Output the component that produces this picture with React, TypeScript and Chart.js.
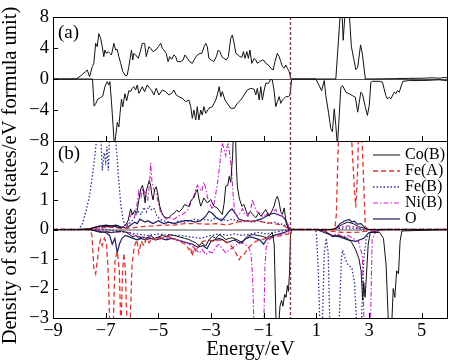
import { useEffect, useRef } from "react";
import { Chart, registerables } from "chart.js";
Chart.register(...registerables);

// ---- axes / labels ----
const X_TICKS = [-9, -7, -5, -3, -1, 1, 3, 5];
const YA_TICKS = [-8, -4, 0, 4, 8];
const YB_TICKS = [-3, -2, -1, 0, 1, 2];
const X_TITLE = "Energy/eV";
const Y_TITLE = "Density of states (states/eV formula unit)";
const PANEL_LABELS = ["(a)", "(b)"];
const SPECIES = ["Co(B)", "Fe(A)", "Fe(B)", "Ni(B)", "O"];

// ---- panel (a): total DOS [energy, states] ----
const TOTAL_UP: number[][] = [[-9,0],[-8.12,0],[-7.95,0.4],[-7.78,0.9],[-7.7,1.16],[-7.61,0.3],[-7.51,1.59],[-7.45,2.02],[-7.38,4.6],[-7.32,4.17],[-7.26,5.85],[-7.19,5.25],[-7.13,4.17],[-7.07,2.88],[-7.03,3.74],[-6.98,3.31],[-6.9,3.53],[-6.84,3.31],[-6.78,3.1],[-6.69,4.6],[-6.62,3.74],[-6.56,3.83],[-6.5,2.88],[-6.43,2.02],[-6.35,0.95],[-6.24,0.39],[-6.18,0.52],[-6.12,1.59],[-6.02,3.74],[-5.97,2.45],[-5.93,3.31],[-5.86,3.1],[-5.76,2.67],[-5.67,3.74],[-5.61,4.6],[-5.52,4.6],[-5.46,2.88],[-5.36,4.17],[-5.29,3.96],[-5.2,3.53],[-5.1,3.74],[-5.0,4.17],[-4.91,4.6],[-4.85,3.96],[-4.79,3.74],[-4.7,3.31],[-4.63,2.24],[-4.57,2.88],[-4.49,2.54],[-4.41,3.1],[-4.34,2.88],[-4.28,2.24],[-4.15,2.24],[-4.06,2.45],[-3.99,3.1],[-3.9,2.67],[-3.81,2.24],[-3.71,2.02],[-3.61,2.67],[-3.52,3.1],[-3.42,3.31],[-3.35,3.31],[-3.26,4.17],[-3.2,4.6],[-3.14,4.17],[-3.08,2.67],[-2.99,2.45],[-2.89,2.24],[-2.8,2.88],[-2.72,3.74],[-2.66,3.53],[-2.59,2.88],[-2.51,2.67],[-2.42,2.45],[-2.34,2.88],[-2.25,5.25],[-2.19,5.68],[-2.12,4.6],[-2.06,3.31],[-1.97,3.1],[-1.9,2.88],[-1.83,2.8],[-1.77,3.53],[-1.71,2.67],[-1.64,3.53],[-1.58,2.67],[-1.52,3.74],[-1.45,2.02],[-1.36,2.67],[-1.3,2.45],[-1.24,2.02],[-1.15,2.24],[-1.05,2.45],[-0.98,2.37],[-0.92,2.02],[-0.82,1.81],[-0.73,1.38],[-0.64,1.16],[-0.57,2.24],[-0.48,3.31],[-0.41,2.88],[-0.35,2.24],[-0.29,1.59],[-0.22,1.38],[-0.16,1.81],[-0.1,1.38],[-0.03,0.95],[0.03,0],[1.74,0],[1.88,7],[1.95,10.5],[2.02,5.0],[2.1,9],[2.18,10.5],[2.26,8],[2.33,4.2],[2.42,2.6],[2.5,1.2],[2.57,1.5],[2.68,4.4],[2.75,3.2],[2.86,0],[3.5,0.02],[4.0,0.05],[4.5,0.08],[5.0,0.1],[5.4,0.15],[5.7,0.1],[5.85,0.2],[6,0.15]];
const TOTAL_DOWN: number[][] = [[-9,0],[-7.5,0],[-7.44,-3.5],[-7.38,-3.2],[-7.3,-2.6],[-7.2,-2.4],[-7.11,-2.2],[-7.03,-1.0],[-6.94,-0.34],[-6.88,-0.77],[-6.84,-0.34],[-6.78,-2.9],[-6.72,-6.0],[-6.67,-8.6],[-6.62,-7.4],[-6.56,-5.6],[-6.5,-6.2],[-6.45,-4.3],[-6.4,-2.6],[-6.35,-3.6],[-6.27,-1.9],[-6.2,-2.8],[-6.12,-1.5],[-6.05,-1.63],[-5.99,-1.2],[-5.93,-0.99],[-5.86,-1.42],[-5.8,-0.77],[-5.74,-1.85],[-5.67,-1.42],[-5.61,-0.99],[-5.52,-1.63],[-5.42,-0.77],[-5.33,-1.2],[-5.26,-1.42],[-5.17,-2.06],[-5.08,-1.2],[-4.98,-2.06],[-4.85,-1.42],[-4.72,-1.63],[-4.6,-2.06],[-4.49,-1.85],[-4.41,-1.42],[-4.32,-2.06],[-4.22,-2.28],[-4.09,-2.49],[-3.96,-2.92],[-3.84,-2.71],[-3.77,-3.57],[-3.71,-5.08],[-3.65,-4.0],[-3.58,-5.29],[-3.52,-3.57],[-3.46,-5.29],[-3.39,-4.0],[-3.33,-4.65],[-3.27,-3.57],[-3.2,-4.43],[-3.08,-3.78],[-2.95,-3.57],[-2.82,-2.71],[-2.76,-2.06],[-2.69,-0.99],[-2.63,-2.28],[-2.57,-1.63],[-2.47,-2.71],[-2.34,-3.35],[-2.25,-3.78],[-2.12,-3.78],[-2.0,-3.14],[-1.87,-2.71],[-1.74,-2.06],[-1.62,-1.42],[-1.49,-1.2],[-1.36,-1.33],[-1.3,-2.06],[-1.24,-1.2],[-1.17,-2.71],[-1.11,-0.99],[-1.05,-2.71],[-0.98,-1.42],[-0.92,-0.56],[-0.82,-0.56],[-0.73,-0.04],[-0.67,-0.13],[-0.6,-1.63],[-0.54,-3.57],[-0.48,-2.92],[-0.41,-2.28],[-0.35,-3.14],[-0.29,-2.71],[-0.22,-2.49],[-0.16,-2.28],[-0.06,-2.28],[0.0,-2.06],[0.06,-0.13],[0.1,0],[0.98,0],[1.11,-0.86],[1.2,-1.5],[1.3,-0.2],[1.36,-2.14],[1.46,-4.28],[1.55,-6.4],[1.61,-6.8],[1.68,-3.85],[1.74,-6.0],[1.8,-8.6],[1.87,-4.7],[1.93,-1.07],[2.0,-0.86],[2.12,-1.7],[2.25,-1.9],[2.37,-2.14],[2.48,-2.35],[2.57,-4.28],[2.63,-3.0],[2.69,-1.7],[2.75,-1.9],[2.86,-3.64],[2.94,-4.7],[3.01,-3.4],[3.07,-0.43],[3.13,-0.3],[3.39,-0.3],[3.51,-0.4],[3.64,-2.14],[3.7,-2.56],[3.77,-2.35],[3.83,-2.56],[3.96,-1.7],[4.02,-1.9],[4.08,-1.5],[4.15,-1.7],[4.28,-0.3],[4.53,-0.2],[5.04,-0.2],[5.67,-0.1],[5.92,-0.2],[6,-0.15]];

// ---- panel (b): partial DOS [energy, states] ----
const CO_UP: number[][] = [[-9,0],[-8,0],[-7.6,0.02],[-7.4,0.08],[-7.2,0.12],[-7.0,0.1],[-6.8,0.12],[-6.6,0.1],[-6.4,0.05],[-6.25,0.15],[-6.15,0.3],[-6.05,0.7],[-5.98,0.5],[-5.9,0.65],[-5.82,0.55],[-5.74,1.0],[-5.66,1.4],[-5.6,1.5],[-5.55,1.2],[-5.5,0.9],[-5.46,1.3],[-5.4,1.5],[-5.35,1.65],[-5.3,1.55],[-5.25,1.2],[-5.2,1.0],[-5.14,1.35],[-5.08,1.45],[-5.02,1.2],[-4.95,0.8],[-4.88,0.6],[-4.8,0.45],[-4.7,0.4],[-4.6,0.4],[-4.5,0.5],[-4.4,0.55],[-4.3,0.65],[-4.2,0.6],[-4.1,0.7],[-4.0,0.85],[-3.9,0.8],[-3.84,0.79],[-3.75,1.0],[-3.65,1.07],[-3.58,1.25],[-3.52,1.36],[-3.45,1.0],[-3.39,0.79],[-3.27,1.07],[-3.14,0.9],[-3.01,1.02],[-2.89,0.79],[-2.76,0.73],[-2.65,0.6],[-2.57,0.51],[-2.5,0.9],[-2.44,1.47],[-2.36,1.5],[-2.31,1.8],[-2.25,1.6],[-2.18,2.5],[-2.14,3.5],[-2.08,3.5],[-2.03,2.0],[-2.0,1.47],[-1.93,1.07],[-1.83,0.79],[-1.75,0.85],[-1.62,0.51],[-1.5,0.6],[-1.3,0.4],[-1.2,0.55],[-1.1,0.45],[-0.92,0.68],[-0.8,0.45],[-0.7,0.6],[-0.6,0.8],[-0.54,1.02],[-0.48,1.13],[-0.42,0.95],[-0.35,0.6],[-0.29,0.51],[-0.22,0.73],[-0.14,0.2],[-0.05,0],[1.6,0],[1.75,0.05],[2.0,0.18],[2.2,0.25],[2.4,0.2],[2.6,0.1],[2.8,0.05],[3.0,0],[6,0]];
const CO_DOWN: number[][] = [[-9,0],[-7.6,0],[-7.4,-0.05],[-7.2,-0.1],[-7.0,-0.08],[-6.8,-0.1],[-6.6,-0.08],[-6.4,-0.05],[-6.2,-0.1],[-6.05,-0.2],[-5.95,-0.25],[-5.85,-0.2],[-5.75,-0.3],[-5.6,-0.25],[-5.45,-0.3],[-5.3,-0.2],[-5.15,-0.3],[-5.0,-0.25],[-4.85,-0.2],[-4.7,-0.25],[-4.6,-0.17],[-4.4,-0.2],[-4.2,-0.25],[-4.0,-0.3],[-3.84,-0.34],[-3.7,-0.4],[-3.58,-0.45],[-3.45,-0.55],[-3.35,-0.45],[-3.2,-0.56],[-3.08,-0.35],[-2.95,-0.23],[-2.82,-0.3],[-2.69,-0.17],[-2.55,-0.25],[-2.44,-0.34],[-2.3,-0.3],[-2.19,-0.28],[-2.0,-0.35],[-1.81,-0.45],[-1.7,-0.3],[-1.62,-0.23],[-1.43,-0.17],[-1.25,-0.2],[-1.05,-0.23],[-0.9,-0.28],[-0.78,-0.2],[-0.67,-0.11],[-0.6,-0.5],[-0.56,-2.0],[-0.52,-3.5],[-0.45,-3.5],[-0.38,-2.6],[-0.32,-2.4],[-0.27,-2.6],[-0.2,-2.2],[-0.15,-2.3],[-0.1,-1.9],[-0.06,-2.1],[-0.02,-1.5],[0.02,-0.2],[0.06,0],[1.0,0],[1.3,-0.05],[1.5,-0.15],[1.6,-0.25],[1.8,-0.2],[2.0,-0.25],[2.2,-0.3],[2.35,-0.45],[2.5,-0.7],[2.62,-1.0],[2.7,-1.4],[2.76,-2.4],[2.8,-1.8],[2.85,-2.3],[2.9,-1.6],[2.97,-0.5],[3.05,-0.1],[3.4,-0.1],[3.55,-0.3],[3.65,-1.2],[3.75,-3.5],[3.85,-3.5],[3.92,-2.0],[3.98,-2.3],[4.05,-1.4],[4.12,-1.5],[4.18,-0.4],[4.25,-0.05],[6,0]];
const FEA_UP: number[][] = [[-9,0],[-7.5,0],[-7.2,0.05],[-6.8,0.08],[-6.4,0.05],[-6.0,0.05],[-5.6,0.1],[-5.2,0.12],[-4.8,0.15],[-4.4,0.15],[-4.0,0.2],[-3.6,0.2],[-3.2,0.18],[-2.8,0.2],[-2.4,0.15],[-2.0,0.25],[-1.7,0.3],[-1.5,0.25],[-1.3,0.3],[-1.0,0.25],[-0.6,0.2],[-0.3,0.15],[0,0],[1.7,0],[1.76,0.5],[1.82,2.5],[1.87,3.6],[1.95,4],[2.1,4],[2.3,3.8],[2.38,2.4],[2.45,1.3],[2.5,0.75],[2.56,1.8],[2.62,3.6],[2.7,3.8],[2.78,2.0],[2.86,0.1],[2.95,0],[6,0]];
const FEA_DOWN: number[][] = [[-9,0],[-7.6,0],[-7.52,-0.2],[-7.45,-1.3],[-7.38,-1.5],[-7.32,-1.1],[-7.26,-0.6],[-7.2,-0.35],[-7.13,-0.55],[-7.05,-0.3],[-6.97,-0.45],[-6.9,-1.5],[-6.84,-3.5],[-6.72,-3.5],[-6.64,-1.0],[-6.56,-0.75],[-6.48,-1.4],[-6.42,-3.5],[-6.36,-1.5],[-6.31,-0.8],[-6.25,-1.4],[-6.18,-3.5],[-6.08,-3.5],[-6.0,-1.2],[-5.92,-0.6],[-5.82,-0.35],[-5.74,-0.8],[-5.65,-0.4],[-5.55,-0.55],[-5.45,-0.3],[-5.35,-0.45],[-5.25,-0.3],[-5.1,-0.35],[-5.0,-0.25],[-4.85,-0.3],[-4.7,-0.25],[-4.6,-0.23],[-4.45,-0.3],[-4.3,-0.35],[-4.1,-0.45],[-3.95,-0.5],[-3.84,-0.68],[-3.78,-0.6],[-3.71,-0.9],[-3.65,-0.6],[-3.58,-0.75],[-3.45,-0.5],[-3.3,-0.4],[-3.1,-0.35],[-2.9,-0.4],[-2.7,-0.35],[-2.5,-0.4],[-2.31,-0.45],[-2.2,-0.6],[-2.06,-0.79],[-1.93,-1.02],[-1.85,-0.9],[-1.75,-0.85],[-1.62,-0.68],[-1.5,-0.55],[-1.3,-0.4],[-1.1,-0.35],[-0.9,-0.3],[-0.6,-0.25],[-0.3,-0.2],[-0.06,-0.15],[0.05,0],[1.0,0],[1.5,-0.05],[2.0,-0.1],[2.5,-0.1],[3.0,-0.05],[3.5,0],[6,0]];
const FEB_UP: number[][] = [[-9,0],[-8.05,0],[-7.9,0.15],[-7.75,0.6],[-7.6,1.2],[-7.45,2.2],[-7.3,3.4],[-7.2,3.5],[-7.13,2.0],[-7.06,2.6],[-7.0,2.3],[-6.95,2.8],[-6.9,2.0],[-6.84,3.4],[-6.75,3.6],[-6.65,3.4],[-6.58,2.6],[-6.5,1.6],[-6.42,0.8],[-6.33,0.3],[-6.25,0.1],[-6.1,0.2],[-5.95,0.35],[-5.85,0.5],[-5.75,0.6],[-5.65,0.5],[-5.55,0.75],[-5.45,0.6],[-5.35,0.8],[-5.25,0.65],[-5.15,0.7],[-5.05,0.45],[-4.95,0.35],[-4.8,0.3],[-4.6,0.25],[-4.4,0.2],[-4.2,0.3],[-4.0,0.25],[-3.8,0.3],[-3.6,0.35],[-3.4,0.3],[-3.2,0.35],[-3.0,0.3],[-2.8,0.4],[-2.6,0.35],[-2.4,0.3],[-2.2,0.35],[-2.0,0.3],[-1.8,0.25],[-1.6,0.3],[-1.4,0.25],[-1.2,0.3],[-1.0,0.25],[-0.8,0.2],[-0.6,0.25],[-0.4,0.2],[-0.2,0.15],[0,0],[1.6,0],[2.0,0.05],[2.4,0.05],[2.8,0],[6,0]];
const FEB_DOWN: number[][] = [[-9,0],[-7.0,0],[-6.6,-0.05],[-6.2,-0.1],[-5.8,-0.15],[-5.4,-0.2],[-5.0,-0.15],[-4.6,-0.2],[-4.2,-0.2],[-3.8,-0.25],[-3.4,-0.3],[-3.0,-0.2],[-2.7,-0.15],[-2.4,-0.2],[-2.1,-0.15],[-1.8,-0.2],[-1.5,-0.15],[-1.2,-0.1],[-0.9,-0.15],[-0.6,-0.1],[-0.3,-0.05],[0,0],[0.95,0],[1.0,-0.1],[1.08,-1.5],[1.14,-3.5],[1.22,-3.5],[1.3,-0.8],[1.38,-0.3],[1.45,-0.8],[1.52,-3.5],[1.85,-3.5],[1.95,-1.0],[2.0,-0.7],[2.1,-1.0],[2.2,-1.2],[2.35,-1.3],[2.45,-1.8],[2.55,-3.5],[2.7,-3.5],[2.8,-1.0],[2.9,-0.3],[3.0,-0.1],[3.3,-0.05],[3.6,0],[6,0]];
const NI_UP: number[][] = [[-9,0],[-7.6,0],[-7.3,0.05],[-7.0,0.1],[-6.7,0.08],[-6.4,0.05],[-6.2,0.1],[-6.08,0.4],[-5.98,0.6],[-5.9,0.45],[-5.82,0.8],[-5.74,1.3],[-5.66,1.1],[-5.58,1.4],[-5.5,1.2],[-5.4,1.0],[-5.33,1.6],[-5.29,2.25],[-5.24,1.6],[-5.15,1.3],[-5.08,1.2],[-5.0,0.9],[-4.92,0.6],[-4.85,0.5],[-4.7,0.35],[-4.55,0.4],[-4.4,0.35],[-4.25,0.45],[-4.1,0.5],[-3.95,0.6],[-3.85,0.7],[-3.75,0.95],[-3.65,1.15],[-3.58,1.35],[-3.52,1.5],[-3.45,1.4],[-3.35,1.3],[-3.27,1.6],[-3.2,1.4],[-3.14,1.1],[-3.05,0.9],[-2.95,0.68],[-2.88,0.9],[-2.82,1.2],[-2.75,1.6],[-2.69,2.03],[-2.62,2.6],[-2.57,2.94],[-2.5,2.7],[-2.44,2.5],[-2.38,2.85],[-2.34,2.9],[-2.28,2.5],[-2.22,2.0],[-2.16,1.2],[-2.1,0.6],[-2.0,0.45],[-1.9,0.55],[-1.8,0.7],[-1.7,0.5],[-1.6,0.45],[-1.5,0.6],[-1.43,1.02],[-1.35,0.8],[-1.25,0.6],[-1.15,0.55],[-1.05,0.45],[-0.9,0.5],[-0.79,0.56],[-0.65,0.6],[-0.54,0.68],[-0.45,0.5],[-0.3,0.45],[-0.2,0.35],[-0.1,0.23],[0.0,0],[1.6,0],[1.8,0.05],[2.0,0.1],[2.2,0.12],[2.4,0.1],[2.6,0.05],[2.8,0],[6,0]];
const NI_DOWN: number[][] = [[-9,0],[-7.5,0],[-7.2,-0.05],[-6.8,-0.1],[-6.4,-0.08],[-6.1,-0.1],[-5.9,-0.2],[-5.7,-0.25],[-5.5,-0.3],[-5.3,-0.25],[-5.1,-0.3],[-4.9,-0.25],[-4.7,-0.3],[-4.5,-0.28],[-4.3,-0.35],[-4.1,-0.4],[-3.9,-0.45],[-3.75,-0.55],[-3.6,-0.65],[-3.45,-0.8],[-3.33,-0.68],[-3.2,-0.85],[-3.08,-0.75],[-2.95,-0.79],[-2.82,-0.6],[-2.7,-0.5],[-2.57,-0.65],[-2.44,-0.79],[-2.3,-0.7],[-2.15,-0.6],[-2.0,-0.5],[-1.85,-0.45],[-1.7,-0.5],[-1.58,-0.6],[-1.48,-0.8],[-1.42,-1.6],[-1.36,-3.5],[-1.0,-3.5],[-0.95,-1.2],[-0.9,-0.6],[-0.8,-0.35],[-0.65,-0.25],[-0.5,-0.2],[-0.3,-0.15],[-0.1,-0.1],[0.03,0],[1.0,0],[1.4,-0.1],[1.6,-0.2],[1.8,-0.15],[2.0,-0.25],[2.2,-0.2],[2.4,-0.3],[2.6,-0.4],[2.75,-0.9],[2.82,-3.5],[3.05,-3.5],[3.12,-0.3],[3.25,-0.1],[3.5,0],[6,0]];
const O_UP: number[][] = [[-9,0],[-8,0],[-7.6,0.03],[-7.3,0.1],[-7.0,0.15],[-6.8,0.12],[-6.6,0.15],[-6.4,0.08],[-6.2,0.05],[-6.05,0.15],[-5.9,0.25],[-5.8,0.2],[-5.7,0.35],[-5.6,0.3],[-5.5,0.25],[-5.4,0.3],[-5.3,0.25],[-5.2,0.2],[-5.0,0.3],[-4.8,0.2],[-4.6,0.25],[-4.4,0.2],[-4.2,0.25],[-4.0,0.3],[-3.8,0.3],[-3.6,0.25],[-3.4,0.3],[-3.2,0.45],[-3.08,0.62],[-2.95,0.55],[-2.8,0.4],[-2.6,0.3],[-2.45,0.45],[-2.31,0.62],[-2.2,0.7],[-2.05,0.5],[-1.93,0.34],[-1.75,0.3],[-1.5,0.28],[-1.3,0.3],[-1.1,0.35],[-0.9,0.45],[-0.79,0.51],[-0.6,0.55],[-0.45,0.5],[-0.29,0.45],[-0.15,0.3],[-0.06,0.06],[0.05,0],[1.6,0],[1.75,0.05],[1.9,0.2],[2.05,0.28],[2.25,0.34],[2.35,0.25],[2.45,0.28],[2.55,0.18],[2.7,0.2],[2.85,0.05],[3.0,0],[6,0]];
const O_DOWN: number[][] = [[-9,0],[-7.6,0],[-7.3,-0.05],[-7.0,-0.1],[-6.85,-0.2],[-6.75,-0.5],[-6.65,-0.3],[-6.56,-0.79],[-6.48,-0.5],[-6.38,-0.3],[-6.25,-0.2],[-6.1,-0.25],[-5.95,-0.3],[-5.8,-0.35],[-5.65,-0.3],[-5.5,-0.35],[-5.3,-0.3],[-5.1,-0.35],[-4.9,-0.3],[-4.7,-0.35],[-4.5,-0.3],[-4.3,-0.35],[-4.1,-0.4],[-3.9,-0.45],[-3.7,-0.5],[-3.5,-0.6],[-3.3,-0.55],[-3.15,-0.65],[-3.0,-0.4],[-2.85,-0.35],[-2.7,-0.3],[-2.55,-0.35],[-2.4,-0.45],[-2.25,-0.4],[-2.1,-0.35],[-1.95,-0.45],[-1.8,-0.4],[-1.65,-0.3],[-1.5,-0.25],[-1.3,-0.3],[-1.15,-0.35],[-1.0,-0.5],[-0.9,-0.35],[-0.75,-0.25],[-0.6,-0.2],[-0.4,-0.15],[-0.2,-0.1],[0,0],[1.0,0],[1.3,-0.1],[1.6,-0.2],[1.9,-0.25],[2.2,-0.35],[2.5,-0.4],[2.8,-0.3],[3.0,-0.1],[3.3,-0.05],[3.6,0],[6,0]];

const FONT = "'Liberation Serif', 'Times New Roman', serif";
const minus = (v: number) => String(v).replace("-", "\u2212");

const STYLES: Record<string, { color: string; dash: number[]; width: number }> = {
  "Co(B)": { color: "#111111", dash: [], width: 1 },
  "Fe(A)": { color: "#e0352e", dash: [5, 3], width: 1.3 },
  "Fe(B)": { color: "#2e2e96", dash: [1.5, 2], width: 1.3 },
  "Ni(B)": { color: "#cc22cc", dash: [5, 2, 1.5, 2], width: 1.1 },
  "O": { color: "#1c1c60", dash: [], width: 1.2 },
};

const toXY = (arr: number[][]) => arr.map(([x, y]) => ({ x, y }));

const panelPlugin = {
  id: "panels",
  beforeDatasetDraw(chart: any, args: any) {
    const ds = chart.data.datasets[args.index];
    const s = chart.scales[ds.yAxisID];
    const a = chart.chartArea;
    const ctx = chart.ctx;
    ctx.save();
    ctx.beginPath();
    ctx.rect(a.left, s.top, a.right - a.left, s.bottom - s.top);
    ctx.clip();
  },
  afterDatasetDraw(chart: any) {
    chart.ctx.restore();
  },
  beforeDatasetsDraw(chart: any) {
    const ctx = chart.ctx;
    const a = chart.chartArea;
    const ya = chart.scales.ya;
    const yb = chart.scales.yb;
    ctx.save();
    ctx.strokeStyle = "#555";
    ctx.lineWidth = 1;
    let y0 = Math.round(ya.getPixelForValue(0)) + 0.5;
    ctx.beginPath(); ctx.moveTo(a.left, y0); ctx.lineTo(a.right, y0); ctx.stroke();
    ctx.strokeStyle = "#a8a8a8";
    ctx.lineWidth = 2;
    y0 = Math.round(yb.getPixelForValue(0));
    ctx.beginPath(); ctx.moveTo(a.left, y0); ctx.lineTo(a.right, y0); ctx.stroke();
    ctx.restore();
  },
  afterDatasetsDraw(chart: any) {
    const ctx = chart.ctx;
    const a = chart.chartArea;
    const x = chart.scales.x;
    const xf = Math.round(x.getPixelForValue(0)) + 0.5;
    ctx.save();
    ctx.strokeStyle = "#8a4040";
    ctx.lineWidth = 1.4;
    ctx.setLineDash([3, 2]);
    ctx.beginPath(); ctx.moveTo(xf, a.top); ctx.lineTo(xf, a.bottom); ctx.stroke();
    ctx.restore();
  },
  afterDraw(chart: any) {
    const ctx = chart.ctx;
    const a = chart.chartArea;
    const x = chart.scales.x;
    const panels = [chart.scales.ya, chart.scales.yb];
    ctx.save();
    ctx.strokeStyle = "#000";
    ctx.lineWidth = 1;
    panels.forEach((s: any, i: number) => {
      ctx.strokeRect(a.left + 0.5, Math.round(s.top) + 0.5, a.right - a.left - 1, Math.round(s.bottom - s.top));
      X_TICKS.forEach((v) => {
        const px = Math.round(x.getPixelForValue(v)) + 0.5;
        ctx.beginPath(); ctx.moveTo(px, s.bottom); ctx.lineTo(px, s.bottom - 5); ctx.stroke();
      });
      s.ticks.forEach((t: any) => {
        const py = Math.round(s.getPixelForValue(t.value)) + 0.5;
        ctx.beginPath(); ctx.moveTo(a.left, py); ctx.lineTo(a.left + 5, py); ctx.stroke();
      });
      ctx.fillStyle = "#000";
      ctx.font = `19px ${FONT}`;
      ctx.textAlign = "left";
      ctx.textBaseline = "middle";
      ctx.fillText(PANEL_LABELS[i], a.left + 5, s.top + (i === 0 ? 16 : 13));
    });
    const yb = chart.scales.yb;
    ctx.font = `16px ${FONT}`;
    ctx.textBaseline = "middle";
    SPECIES.forEach((name, i) => {
      const st = STYLES[name];
      const ly = yb.top + 14 + i * 16;
      ctx.strokeStyle = st.color;
      ctx.lineWidth = st.width;
      ctx.setLineDash(st.dash);
      ctx.beginPath(); ctx.moveTo(a.right - 75, ly); ctx.lineTo(a.right - 48, ly); ctx.stroke();
      ctx.setLineDash([]);
      ctx.fillStyle = "#000";
      ctx.fillText(name, a.right - 43, ly);
    });
    ctx.font = `20.5px ${FONT}`;
    ctx.textAlign = "center";
    ctx.textBaseline = "middle";
    ctx.translate(11, (a.top + a.bottom) / 2 + 8);
    ctx.rotate(-Math.PI / 2);
    ctx.fillText(Y_TITLE, 0, 0);
    ctx.restore();
  },
};

export default function App() {
  const ref = useRef<HTMLCanvasElement>(null);
  useEffect(() => {
    document.body.style.margin = "0";
    const pairs: [string, number[][], number[][]][] = [
      ["Co(B)", CO_UP, CO_DOWN],
      ["Fe(A)", FEA_UP, FEA_DOWN],
      ["Fe(B)", FEB_UP, FEB_DOWN],
      ["Ni(B)", NI_UP, NI_DOWN],
      ["O", O_UP, O_DOWN],
    ];
    const datasets: any[] = [
      { label: "Total up", data: toXY(TOTAL_UP), yAxisID: "ya", borderColor: "#111", borderWidth: 1 },
      { label: "Total down", data: toXY(TOTAL_DOWN), yAxisID: "ya", borderColor: "#111", borderWidth: 1 },
    ];
    pairs.forEach(([name, up, down]) => {
      const st = STYLES[name];
      [up, down].forEach((d, k) =>
        datasets.push({
          label: name + (k ? " down" : " up"),
          data: toXY(d),
          yAxisID: "yb",
          borderColor: st.color,
          borderDash: st.dash,
          borderWidth: st.width,
        })
      );
    });
    datasets.forEach((d) => {
      d.pointRadius = 0;
      d.fill = false;
      d.tension = 0;
      d.clip = false;
    });
    const tickFont = { family: FONT, size: 18.5 };
    const yCommon = {
      type: "linear",
      position: "left",
      stack: "dos",
      grid: { display: false, drawTicks: false },
      border: { display: false },
      afterFit: (s: any) => { s.width = 53; },
    };
    const chart = new Chart(ref.current!, {
      type: "line",
      data: { datasets },
      options: {
        animation: false,
        responsive: false,
        layout: { padding: { top: 17, right: 2, left: 0, bottom: 0 } },
        plugins: { legend: { display: false }, tooltip: { enabled: false } },
        scales: {
          x: {
            type: "linear",
            min: -9,
            max: 6,
            afterBuildTicks: (s: any) => { s.ticks = X_TICKS.map((v) => ({ value: v })); },
            ticks: { font: tickFont, color: "#000", padding: 2, maxRotation: 0, autoSkip: false, callback: (v: any) => minus(v) },
            grid: { display: false, drawTicks: false },
            border: { display: false },
            title: { display: true, text: X_TITLE, font: { family: FONT, size: 20.5 }, color: "#000", padding: { top: 0, bottom: 2 } },
            afterFit: (s: any) => { s.height = 46; },
          },
          yb: {
            ...yCommon,
            stackWeight: 177,
            min: -3,
            max: 3,
            afterBuildTicks: (s: any) => { s.ticks = YB_TICKS.map((v) => ({ value: v })); },
            ticks: { font: tickFont, color: "#000", padding: 4, autoSkip: false, callback: (v: any) => minus(v) },
          },
          ya: {
            ...yCommon,
            stackWeight: 124,
            min: -8,
            max: 8,
            afterBuildTicks: (s: any) => { s.ticks = YA_TICKS.map((v) => ({ value: v })); },
            ticks: { font: tickFont, color: "#000", padding: 4, autoSkip: false, callback: (v: any) => minus(v) },
          },
        },
      } as any,
      plugins: [panelPlugin],
    });
    return () => chart.destroy();
  }, []);
  return <canvas ref={ref} width={450} height={364} style={{ display: "block" }} />;
}
